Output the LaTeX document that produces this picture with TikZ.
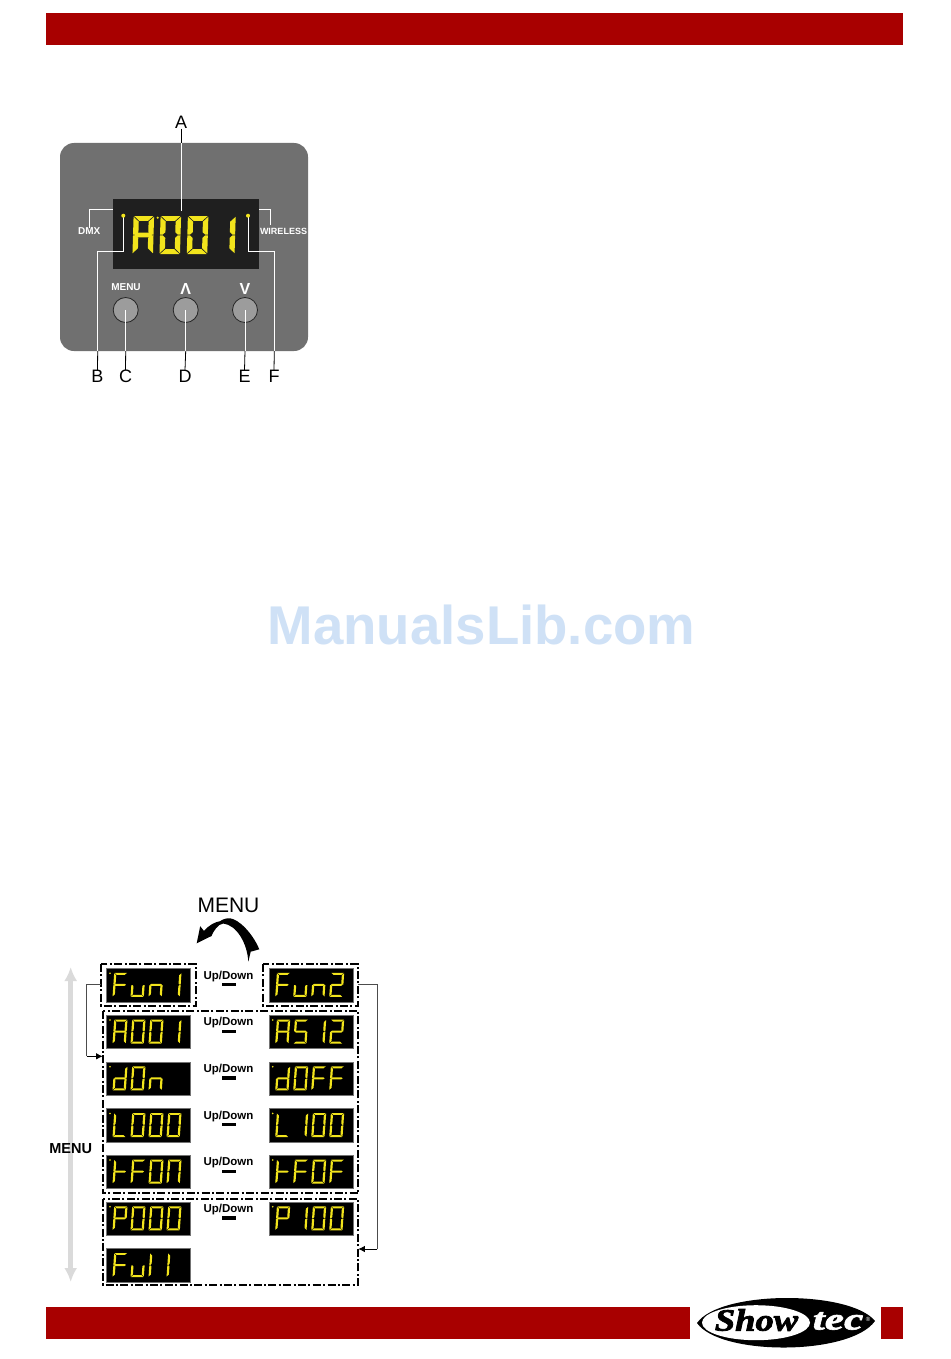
\documentclass[tikz,border=0pt]{standalone}
\usepackage{fontspec}
\setmainfont{Liberation Sans}
\newfontfamily\showfont[FakeBold=2.5,FakeStretch=1.18]{Liberation Serif}
\newfontfamily\tecfont[FakeBold=2,FakeStretch=1.4]{Liberation Serif}
\definecolor{barred}{HTML}{A80000}
\definecolor{panelgray}{HTML}{707070}
\definecolor{btngray}{HTML}{9C9C9C}
\definecolor{lcdyellow}{HTML}{F2E41C}
\definecolor{markblue}{HTML}{CFE1F6}
\definecolor{arrowgray}{HTML}{DADADA}
\tikzset{
  redbar/.style={fill=barred,draw=none},
  lcd/.style={fill=black,draw=black!55,line width=.4pt,minimum width=84pt,minimum height=33.4pt,inner sep=0pt,anchor=north west,text opacity=0,font=\fontsize{14}{14}\selectfont},
  dashbox/.style={draw=black,line width=1.7pt,dash pattern=on 8pt off 2.4pt on 2pt off 2.4pt,fill=none},
  leaderw/.style={draw=white,line width=.9pt},
  leaderk/.style={draw=black,line width=.8pt},
  callout/.style={font=\fontsize{18}{18}\selectfont,inner sep=0pt},
  paneltext/.style={font=\fontsize{9}{9}\selectfont\bfseries,text=white,inner sep=0pt},
  updown/.style={font=\fontsize{11.5}{12}\selectfont\bfseries,inner sep=0pt},
  flowline/.style={draw=black!70,line width=.7pt},
  flowtip/.style={draw=black,line width=.9pt,-{Latex[length=6.5pt,width=6.5pt]}},
  menuarrow/.style={draw=arrowgray,line width=4.5pt,{Latex[length=14pt,width=13pt]}-{Latex[length=14pt,width=13pt]}},
  button/.style={circle,draw=black!85,line width=.8pt,fill=btngray,minimum size=25pt,inner sep=0pt},
}
\usetikzlibrary{arrows.meta,calc}
% seven segments in a 10 x 20 cell; \T is the thickness
\newcommand\sega{\fill (.3,0)--(9.7,0)--({9.7-\T},\T)--({.3+\T},\T)--cycle;}
\newcommand\segd{\fill (.3,20)--(9.7,20)--({9.7-\T},{20-\T})--({.3+\T},{20-\T})--cycle;}
\newcommand\segf{\fill (0,.4)--(\T,{.4+\T})--(\T,{9.8-.5*\T})--({.5*\T},9.8)--(0,9.8)--cycle;}
\newcommand\sege{\fill (0,19.6)--(\T,{19.6-\T})--(\T,{10.2+.5*\T})--({.5*\T},10.2)--(0,10.2)--cycle;}
\newcommand\segb{\fill (10,.4)--({10-\T},{.4+\T})--({10-\T},{9.8-.5*\T})--({10-.5*\T},9.8)--(10,9.8)--cycle;}
\newcommand\segc{\fill (10,19.6)--({10-\T},{19.6-\T})--({10-\T},{10.2+.5*\T})--({10-.5*\T},10.2)--(10,10.2)--cycle;}
\newcommand\segg{\fill (.5,10)--({.5+.6*\T},{10-.5*\T})--({9.5-.6*\T},{10-.5*\T})--(9.5,10)--({9.5-.6*\T},{10+.5*\T})--({.5+.6*\T},{10+.5*\T})--cycle;}
\expandafter\def\csname glyphA\endcsname{\sega\segb\segc\sege\segf\segg}
\expandafter\def\csname glyph0\endcsname{\sega\segb\segc\segd\sege\segf}
\expandafter\def\csname glyph1\endcsname{\segb\segc}
\expandafter\def\csname glyph2\endcsname{\sega\segb\segg\sege\segd}
\expandafter\def\csname glyph5\endcsname{\sega\segf\segg\segc\segd}
\expandafter\def\csname glyphF\endcsname{\sega\segf\segg\sege}
\expandafter\def\csname glyphu\endcsname{\sege\segd\segc}
\expandafter\def\csname glyphn\endcsname{\sege\segg\segc}
\expandafter\def\csname glyphd\endcsname{\segb\segc\segd\sege\segg}
\expandafter\def\csname glyphL\endcsname{\segf\sege\segd}
\expandafter\def\csname glyphP\endcsname{\sega\segb\segf\segg\sege}
\expandafter\def\csname glypht\endcsname{\segf\sege\segg}
\expandafter\def\csname glyphN\endcsname{\sega\segb\segc\sege\segf}
\expandafter\def\csname glyphl\endcsname{\sege\segf}
\expandafter\def\csname glyphx\endcsname{}
% \smallcell{x}{y}{glyph}
\newcommand\smallcell[3]{\begin{scope}[shift={(#1,#2)},xslant=.07,xscale=1.33,yscale=1.2,fill=lcdyellow]\def\T{1.65}\csname glyph#3\endcsname\end{scope}}
\newcommand\bigcell[3]{\begin{scope}[shift={(#1,#2)},xslant=.03,xscale=2.05,yscale=1.9,fill=lcdyellow]\def\T{2.6}\csname glyph#3\endcsname\end{scope}}
% \lcdpanel{name}{x}{y}{text}{c1}{c2}{c3}{c4}{dot: 1/0}
\newcommand\lcdpanel[9]{%
  \node[lcd] (#1) at (#2,#3) {#4};
  \smallcell{#2+8.2}{#3+4.6}{#5}
  \smallcell{#2+26.2}{#3+4.6}{#6}
  \smallcell{#2+44.2}{#3+4.6}{#7}
  \smallcell{#2+62.2}{#3+4.6}{#8}
  \ifnum#9=1 \fill[lcdyellow] (#2+4,#3+5) circle (.9);\fi
}
\newcommand\updownrow[2]{%
  \node[updown] (ud#1) at (228.5,#2) {Up/Down};
  \fill ($(ud#1)+(-7,6.7)$) rectangle ($(ud#1)+(7.5,10.2)$);
}
\begin{document}
\begin{tikzpicture}[x=1pt,y=-1pt]
\useasboundingbox (0,0) rectangle (950,1359);
\fill[white] (0,0) rectangle (950,1359);
% header and footer
\fill[redbar] (46,13) rectangle (903,45);
\fill[redbar] (46,1307) rectangle (690,1339);
\fill[redbar] (881,1307) rectangle (903,1339);
% control panel
\fill[panelgray,rounded corners=14pt] (60,143) rectangle (308,351);
\fill[black!88] (113,199) rectangle (259,269);
\bigcell{133.6}{216}{A}
\bigcell{160.6}{216}{0}
\bigcell{187.9}{216}{0}
\bigcell{215.2}{216}{1}
\fill[lcdyellow] (157.7,217.7) circle (1.2);
\coordinate (dotB) at (123.3,215.7);
\coordinate (dotF) at (248,215.7);
\node[callout] (labA) at (181,122.5) {A};
\node[callout] (labB) at (97.5,376.5) {B};
\node[callout] (labC) at (125.5,376.5) {C};
\node[callout] (labD) at (185,376.5) {D};
\node[callout] (labE) at (244.5,376.5) {E};
\node[callout] (labF) at (274,376.5) {F};
\node[paneltext,font=\fontsize{10}{10}\selectfont\bfseries] (dmx) at (89.3,231.5) {DMX};
\node[paneltext,font=\fontsize{9}{10}\selectfont\bfseries] (wireless) at (283.5,231.5) {WIRELESS};
\node[paneltext,font=\fontsize{10}{10}\selectfont\bfseries] (menu) at (126,287.3) {MENU};
\node[paneltext,font=\fontsize{16}{16}\selectfont\bfseries] (up) at (185.7,288.5) {Λ};
\node[paneltext,font=\fontsize{16}{16}\selectfont\bfseries] (down) at (245,288.5) {V};
\node[button] (btnC) at (125.7,310) {};
\node[button] (btnD) at (185.7,310) {};
\node[button] (btnE) at (245,310) {};
% leaders
\coordinate (edgeA) at (181,143);
\coordinate (endA) at (181,211);
\coordinate (edgeB) at (97.7,351);
\coordinate (edgeF) at (274.3,351);
\coordinate (edgeC) at (125.7,351);
\coordinate (edgeD) at (185.7,351);
\coordinate (edgeE) at (245,351);
\draw[leaderk] (labA.south) -- (edgeA);
\draw[leaderw] (edgeA) -- (endA);
\draw[leaderw] (dotB) |- (edgeB |- 0,251.7) -- (edgeB);
\draw[leaderw] (dotF) |- (edgeF |- 0,251.7) -- (edgeF);
\fill[lcdyellow] (dotB) circle (2);
\fill[lcdyellow] (dotF) circle (2);
\draw[leaderk] (edgeB) -- (labB.north);
\draw[leaderk] (edgeF) -- (labF.north);
\draw[leaderw] (btnC.center) -- (edgeC);
\draw[leaderw] (btnD.center) -- (edgeD);
\draw[leaderw] (btnE.center) -- (edgeE);
\draw[leaderk] (edgeC) -- (labC.north);
\draw[leaderk] (edgeD) -- (labD.north);
\draw[leaderk] (edgeE) -- (labE.north);
\draw[leaderw] (113,209.3) -- (89.3,209.3) -- (dmx.north -| 89.3,0);
\draw[leaderw] (259,209.3) -- (270,209.3) -- (270,225);
% watermark
\node[font=\fontsize{54.6}{55}\selectfont\bfseries,text=markblue,inner sep=0pt] (mark) at (481.5,625) {ManualsLib.com};
% menu flow
\node[font=\fontsize{21}{21}\selectfont,inner sep=0pt] (bigmenu) at (228.5,905.5) {MENU};
\fill[black] (248.3,961.7) .. controls (247.3,943.3) and (236.7,925) .. (223.3,923.5)
  .. controls (218,924) and (213.5,931) .. (211.5,936)
  -- (196.7,943.3) -- (200.2,926.2) -- (204,931)
  .. controls (209,925) and (215,922) .. (220,921.2)
  .. controls (223,919) and (227,918) .. (230,918.3)
  .. controls (238,919) and (252,932) .. (259.3,949.3)
  -- (250.7,951.7) -- cycle;
\coordinate (mtop) at (70.7,967);
\coordinate (mbot) at (70.7,1282);
\draw[menuarrow] (mtop) -- (mbot);
\node[font=\fontsize{14.5}{15}\selectfont\bfseries,inner sep=0pt] (sidemenu) at (70.7,1149) {MENU};
\lcdpanel{f1}{106}{968.2}{Fun 1}{F}{u}{n}{1}{1}
\lcdpanel{f2}{268.7}{968.2}{Fun2}{F}{u}{n}{2}{0}
\lcdpanel{a1}{106}{1015}{A001}{A}{0}{0}{1}{1}
\lcdpanel{a2}{268.7}{1015}{A512}{A}{5}{1}{2}{1}
\lcdpanel{d1}{106}{1061.7}{dOn}{d}{0}{n}{x}{1}
\lcdpanel{d2}{268.7}{1061.7}{dOFF}{d}{0}{F}{F}{1}
\lcdpanel{l1}{106}{1108.4}{L000}{L}{0}{0}{0}{1}
\lcdpanel{l2}{268.7}{1108.4}{L 100}{L}{1}{0}{0}{1}
\lcdpanel{t1}{106}{1155}{tFON}{t}{F}{0}{N}{1}
\lcdpanel{t2}{268.7}{1155}{tFOF}{t}{F}{0}{F}{1}
\lcdpanel{p1}{106}{1201.7}{P000}{P}{0}{0}{0}{1}
\lcdpanel{p2}{268.7}{1201.7}{P 100}{P}{1}{0}{0}{1}
\lcdpanel{u1}{106}{1248.4}{Full}{F}{u}{l}{l}{0}
\updownrow{1}{976.2}
\updownrow{2}{1022.9}
\updownrow{3}{1069.5}
\updownrow{4}{1116.2}
\updownrow{5}{1162.9}
\updownrow{6}{1209.5}
% dashed groups
\draw[dashbox] (101,964) rectangle (195.7,1005.7);
\draw[dashbox] (263.3,964) rectangle (357.7,1005.7);
\draw[dashbox] (102.7,1011) rectangle (358.3,1193.3);
\draw[dashbox] (102.7,1199) rectangle (358.3,1285);
% connectors between groups
\coordinate (outL) at (101,984.3);
\coordinate (outR) at (357.7,984.3);
\coordinate (inL) at (102.7,1056.3);
\coordinate (inR) at (358.3,1249);
\coordinate (kneeL) at (86.7,1056.3);
\coordinate (kneeR) at (377.3,1249);
\draw[flowline] (outL) -| (kneeL);
\draw[flowtip] (kneeL) -- (inL);
\draw[flowline] (outR) -| (kneeR);
\draw[flowtip] (kneeR) -- (inR);
% logo
\fill[black] (697,1323) .. controls (720,1290) and (850,1290) .. (875,1321)
  .. controls (850,1356) and (720,1356) .. (697,1323) -- cycle;
\fill[white] (756,1322.7) ellipse (54 and 17.5);
\node[font=\showfont\fontsize{31}{31}\selectfont\bfseries\itshape,inner sep=0pt] (show) at (756.5,1320) {Show};
\node[font=\tecfont\fontsize{31}{31}\selectfont\bfseries\itshape,text=white,inner sep=0pt] (tec) at (838,1321) {tec};
\node[font=\fontsize{6}{6}\selectfont,text=white,inner sep=0pt] (reg) at (868,1319) {®};
\end{tikzpicture}
\end{document}
